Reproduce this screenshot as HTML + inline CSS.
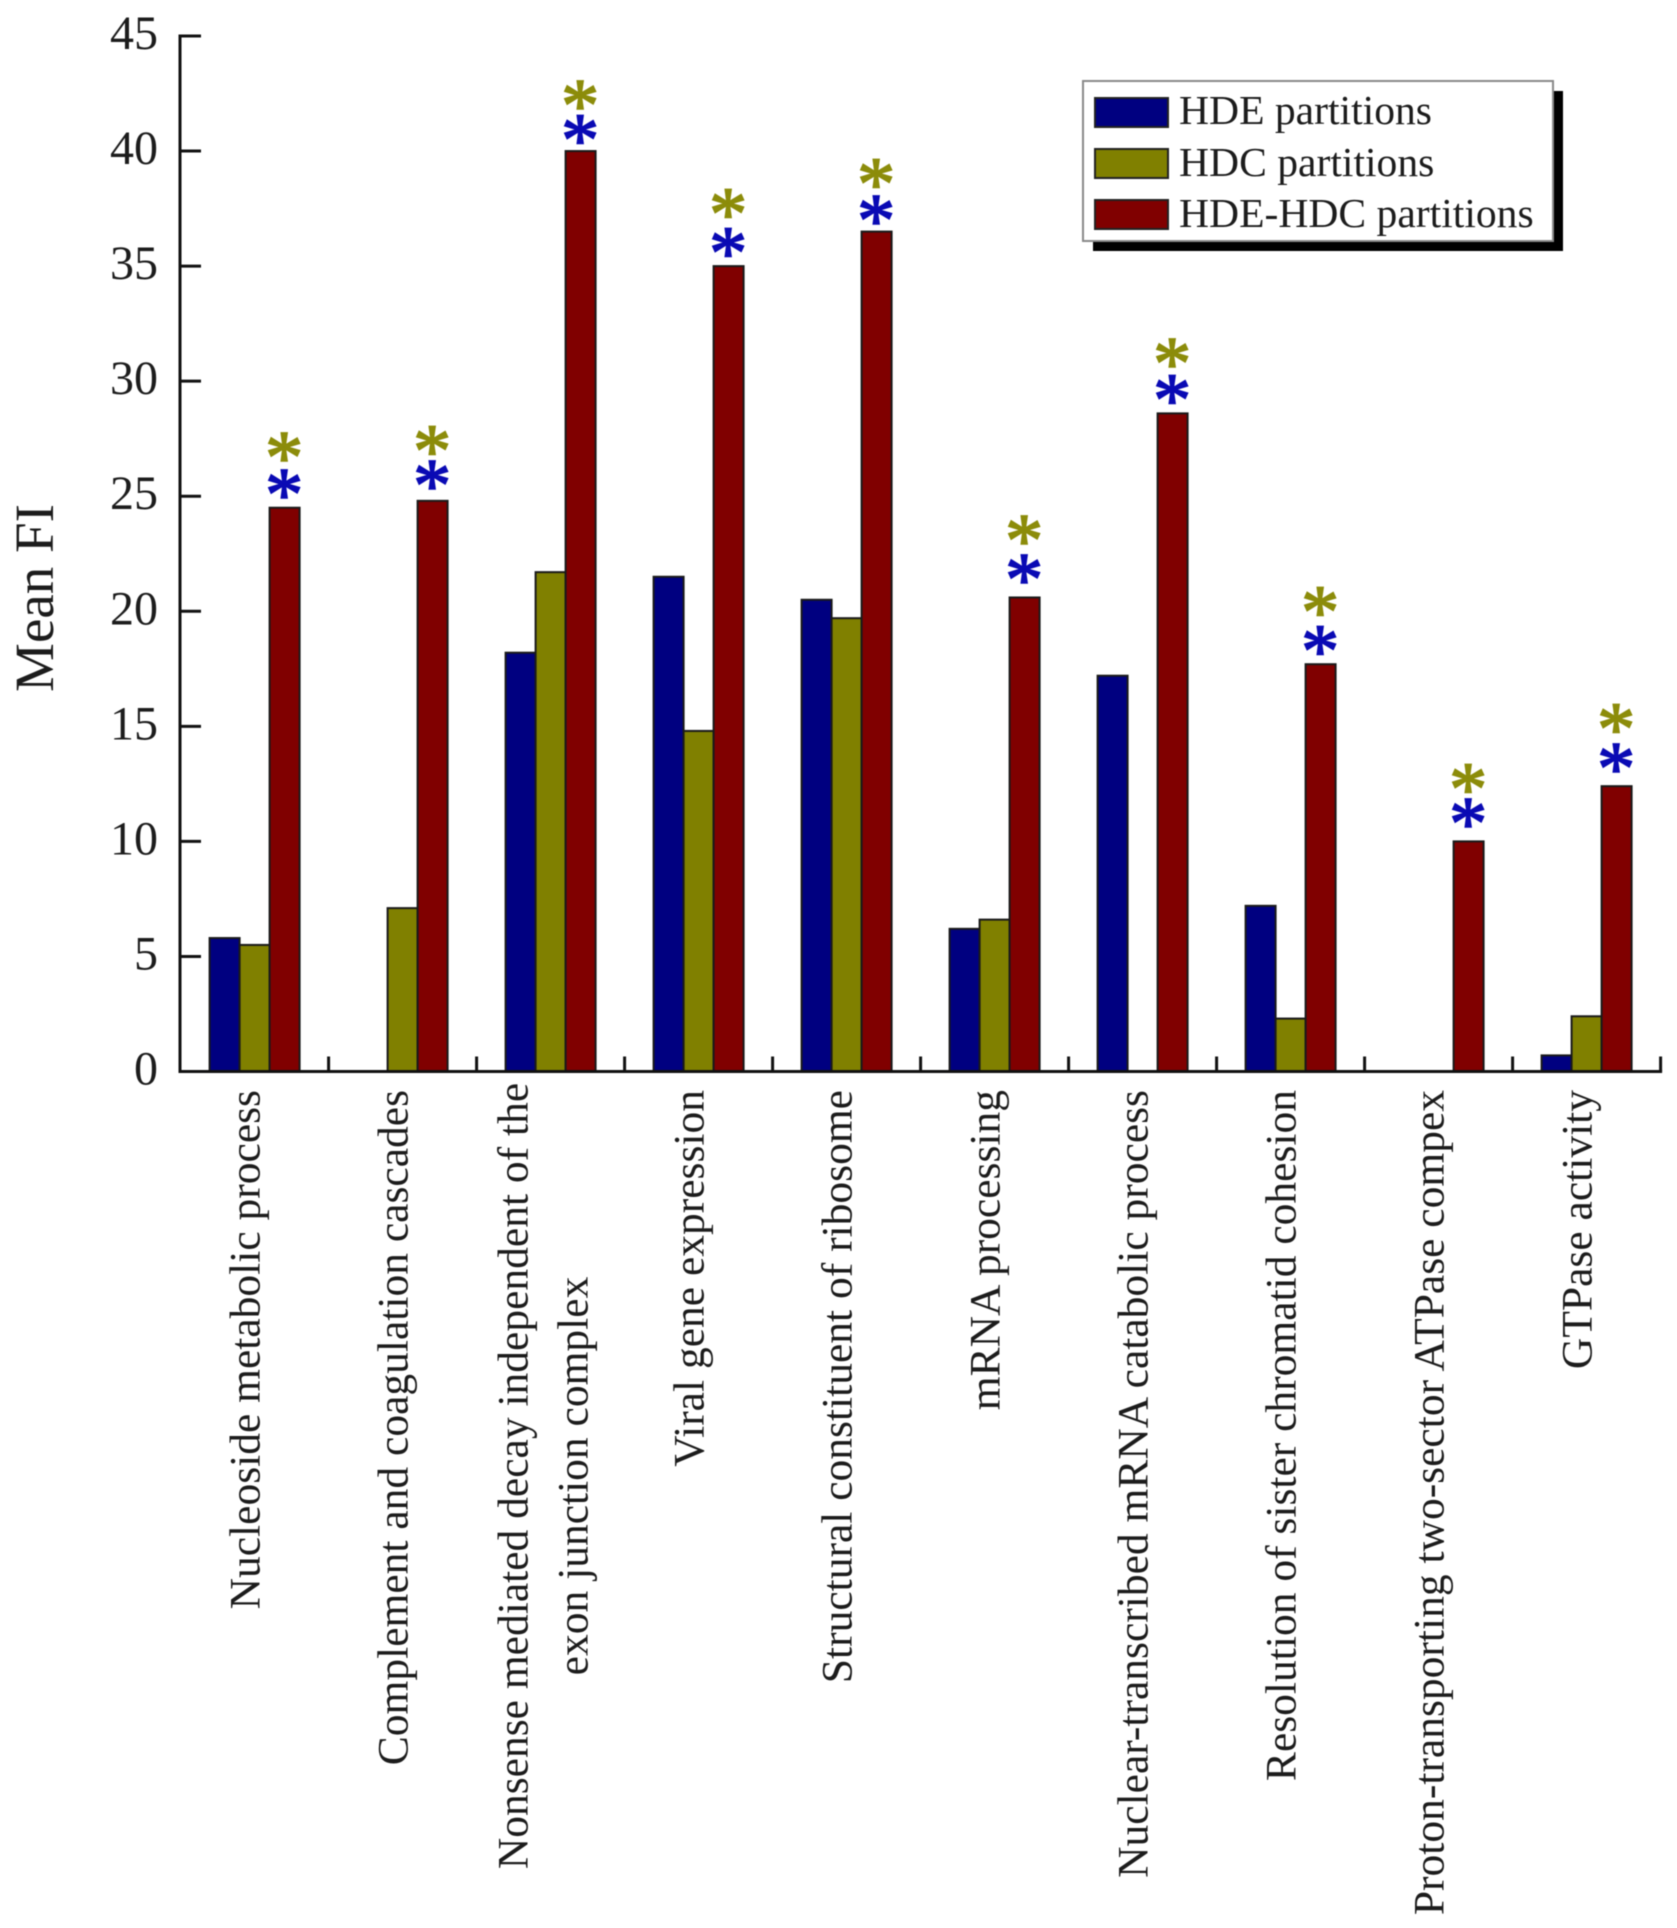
<!DOCTYPE html>
<html>
<head>
<meta charset="utf-8">
<title>Mean FI by functional category</title>
<style>
html,body{margin:0;padding:0;background:#fff;}
#chart{display:block;width:1677px;height:1928px;filter:blur(0.6px);}
text{font-family:"Liberation Serif","Times New Roman",serif;fill:#1c1c1c;}
</style>
</head>
<body>
<svg id="chart" xmlns="http://www.w3.org/2000/svg" width="1677" height="1928" viewBox="0 0 1677 1928">
  <rect x="0" y="0" width="1677" height="1928" fill="#ffffff"/>
  <g id="bars"></g>
  <g id="stars"></g>
  <g id="axes"></g>
  <g id="xlabels"></g>
  <text x="0" y="0" transform="translate(53,598) rotate(-90)" text-anchor="middle" font-size="55">Mean FI</text>
  <g>
    <rect x="1093" y="91" width="470" height="160" fill="#000"/>
    <rect x="1083" y="81" width="470" height="160" fill="#fff" stroke="#8a8a8a" stroke-width="2"/>
    <rect x="1095" y="98" width="73" height="29" fill="#000080" stroke="#222" stroke-width="2"/>
    <text x="1179" y="124" font-size="41.6">HDE partitions</text>
    <rect x="1095" y="149" width="73" height="29" fill="#808000" stroke="#222" stroke-width="2"/>
    <text x="1179" y="176" font-size="41.6">HDC partitions</text>
    <rect x="1095" y="200" width="73" height="29" fill="#800000" stroke="#222" stroke-width="2"/>
    <text x="1179" y="227" font-size="41.6">HDE-HDC partitions</text>
  </g>
</svg>
<script>
const categories = [
  ["Nucleoside metabolic process"],
  ["Complement and coagulation cascades"],
  ["Nonsense mediated decay independent of the", "exon junction complex"],
  ["Viral gene expression"],
  ["Structural constituent of ribosome"],
  ["mRNA processing"],
  ["Nuclear-transcribed mRNA catabolic process"],
  ["Resolution of sister chromatid cohesion"],
  ["Proton-transporting two-sector ATPase compex"],
  ["GTPase activity"]
];
const hdeValues = [5.8, 0, 18.2, 21.5, 20.5, 6.2, 17.2, 7.2, 0, 0.7];
const hdcValues = [5.5, 7.1, 21.7, 14.8, 19.7, 6.6, 0, 2.3, 0, 2.4];
const hdeHdcValues = [24.5, 24.8, 40, 35, 36.5, 20.6, 28.6, 17.7, 10, 12.4];
const blueStarValues = [25.4, 25.8, 40.8, 35.9, 37.3, 21.7, 29.5, 18.6, 11.1, 13.5];
const oliveStarValues = [27, 27.3, 42.3, 37.6, 38.9, 23.4, 31.1, 20.3, 12.6, 15.2];
const yTicks = [0, 5, 10, 15, 20, 25, 30, 35, 40, 45];

const NS = "http://www.w3.org/2000/svg";
const Y0 = 1071.5, Y45 = 36, AXIS_X = 180, GROUP0 = 254.6, GROUP_STEP = 148.0, BAR_W = 30;

function yScale(v) { return Y0 - (v / 45) * (Y0 - Y45); }
function xScale(i) { return GROUP0 + i * GROUP_STEP; }
function svgEl(tag, attrs, parent) {
  const el = document.createElementNS(NS, tag);
  for (const k in attrs) el.setAttribute(k, attrs[k]);
  parent.appendChild(el);
  return el;
}

const barsG = document.getElementById("bars");
const starsG = document.getElementById("stars");
const axesG = document.getElementById("axes");
const labelsG = document.getElementById("xlabels");

const seriesList = [
  { key: "hde", values: hdeValues, color: "#000080", offset: -1 },
  { key: "hdc", values: hdcValues, color: "#808000", offset: 0 },
  { key: "hde-hdc", values: hdeHdcValues, color: "#800000", offset: 1 }
];

seriesList.forEach(function (s) {
  s.values.forEach(function (v, i) {
    if (v <= 0) return;
    const top = yScale(v);
    const r = svgEl("rect", {
      x: xScale(i) + s.offset * BAR_W - BAR_W / 2,
      y: top,
      width: BAR_W,
      height: Y0 - top,
      fill: s.color,
      stroke: "#1a1a1a",
      "stroke-width": 2
    }, barsG);
    
    
  });
});

function drawStar(value, i, color, kind) {
  const t = svgEl("text", {
    x: xScale(i) + BAR_W - 0.5,
    y: yScale(value) + 33,
    "text-anchor": "middle",
    "font-size": 76,
    stroke: color,
    "stroke-width": 1.6
  }, starsG);
  t.style.fill = color;
  t.textContent = "*";
  
  
}
blueStarValues.forEach(function (v, i) { drawStar(v, i, "#0a0ab4", "blue"); });
oliveStarValues.forEach(function (v, i) { drawStar(v, i, "#8c8c0a", "olive"); });

const yLine = svgEl("line", { x1: AXIS_X, y1: Y45 - 1.5, x2: AXIS_X, y2: Y0 + 1.5, stroke: "#111", "stroke-width": 3 }, axesG);


const xLine = svgEl("line", { x1: AXIS_X, y1: Y0, x2: xScale(9) + GROUP_STEP / 2 + 1.5, y2: Y0, stroke: "#111", "stroke-width": 3 }, axesG);



yTicks.forEach(function (v) {
  const y = yScale(v);
  const tick = svgEl("line", { x1: AXIS_X, y1: y, x2: AXIS_X + 21, y2: y, stroke: "#111", "stroke-width": 3 }, axesG);
  
  
  const label = svgEl("text", { x: 158, y: y + 13, "text-anchor": "end", "font-size": 48 }, axesG);
  label.textContent = String(v);
  
  
});

categories.forEach(function (lines, i) {
  const tx = xScale(i) + GROUP_STEP / 2;
  const tick = svgEl("line", { x1: tx, y1: Y0, x2: tx, y2: Y0 - 15, stroke: "#111", "stroke-width": 3 }, axesG);
  
  

  const cx = xScale(i) + 15;
  if (lines.length === 1) {
    const t = svgEl("text", {
      transform: "translate(" + (cx - 10) + ",1090) rotate(-90)",
      "text-anchor": "end",
      "font-size": 43.5
    }, labelsG);
    t.textContent = lines[0];
    
    
  } else {
    lines.forEach(function (line, j) {
      const t = svgEl("text", {
        transform: "translate(" + (cx - 38 + j * 60) + ",1476) rotate(-90)",
        "text-anchor": "middle",
        "font-size": 43.5
      }, labelsG);
      t.textContent = line;
      
      
    });
  }
});
</script>
</body>
</html>
